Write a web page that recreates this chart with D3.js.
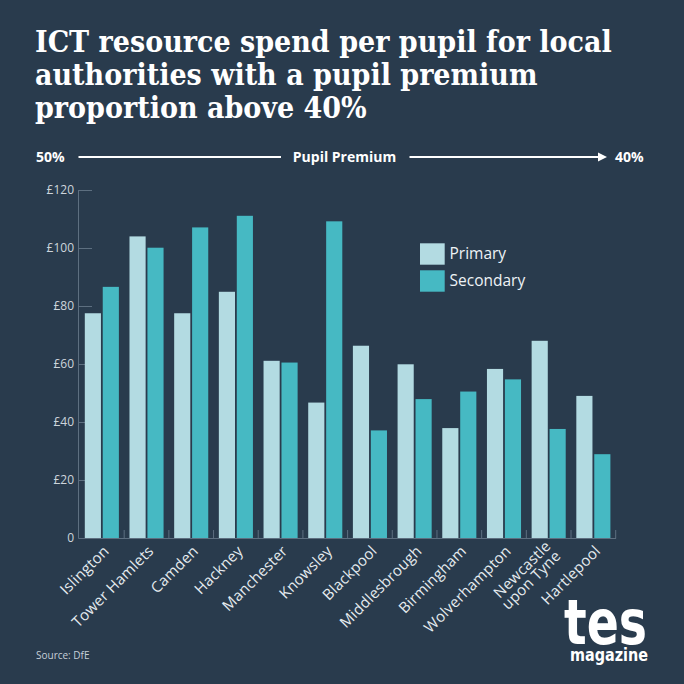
<!DOCTYPE html>
<html>
<head>
<meta charset="utf-8">
<script src="https://cdn.jsdelivr.net/npm/d3@7"></script>
<style>
  html, body { margin: 0; padding: 0; background: #293b4d; }
  svg { display: block; }
</style>
</head>
<body>
<script>
const categories = ["Islington", "Tower Hamlets", "Camden", "Hackney", "Manchester", "Knowsley",
  "Blackpool", "Middlesbrough", "Birmingham", "Wolverhampton", "Newcastle upon Tyne", "Hartlepool"];
const labelLines = [["Islington"], ["Tower Hamlets"], ["Camden"], ["Hackney"], ["Manchester"], ["Knowsley"],
  ["Blackpool"], ["Middlesbrough"], ["Birmingham"], ["Wolverhampton"], ["Newcastle", "upon Tyne"], ["Hartlepool"]];
const seriesNames = ["Primary", "Secondary"];
const primary   = [77.5, 104.0, 77.5, 84.9, 61.1, 46.7, 66.3, 59.9, 37.9, 58.3, 68.0, 49.0];
const secondary = [86.6, 100.1, 107.1, 111.1, 60.5, 109.2, 37.1, 47.9, 50.5, 54.7, 37.6, 28.9];
const yTicks = [0, 20, 40, 60, 80, 100, 120];
const titleLines = ["ICT resource spend per pupil for local", "authorities with a pupil premium", "proportion above 40%"];

const W = 684, H = 684;
const bg = "#293b4d";
const colors = { Primary: "#b3dbe2", Secondary: "#46b9c3" };
const axisColor = "#5d6f80";
const sans = "'Open Sans', 'Noto Sans', sans-serif";

const svg = d3.select("body").append("svg").attr("width", W).attr("height", H);
svg.append("rect").attr("width", W).attr("height", H).attr("fill", bg);

// Title
const title = svg.append("text")
  .attr("fill", "#ffffff")
  .style("font-family", "'DejaVu Serif Condensed', 'DejaVu Serif', serif")
  .style("font-stretch", "condensed")
  .style("font-weight", "bold")
  .style("font-size", "30px");
titleLines.forEach((t, i) => {
  title.append("tspan").attr("x", 35).attr("y", 51.5 + i * 33).text(t);
});

// Pupil premium arrow row
const arrowY = 157;
const rowFont = "14px";
svg.append("text").attr("x", 36).attr("y", 162).attr("fill", "#fff")
  .style("font-family", sans).style("font-weight", "bold").style("font-size", rowFont).text("50%");
svg.append("text").attr("x", 344.5).attr("y", 162).attr("fill", "#fff").attr("text-anchor", "middle")
  .style("font-family", sans).style("font-weight", "bold").style("font-size", rowFont).text("Pupil Premium");
svg.append("text").attr("x", 615).attr("y", 162).attr("fill", "#fff")
  .style("font-family", sans).style("font-weight", "bold").style("font-size", rowFont).text("40%");
svg.append("line").attr("x1", 78.5).attr("x2", 281).attr("y1", arrowY).attr("y2", arrowY)
  .attr("stroke", "#fff").attr("stroke-width", 2);
svg.append("line").attr("x1", 409.5).attr("x2", 600).attr("y1", arrowY).attr("y2", arrowY)
  .attr("stroke", "#fff").attr("stroke-width", 2);
svg.append("path").attr("d", `M598,${arrowY - 4.5}L607,${arrowY}L598,${arrowY + 4.5}Z`).attr("fill", "#fff");

// Scales
const x0 = d3.scaleBand().domain(categories).range([79.5, 615.7]).padding(0);
const x1 = d3.scaleBand().domain(seriesNames).range([5.3, x0.bandwidth() - 5.3]).paddingInner(0.1);
const y = d3.scaleLinear().domain([0, 120]).range([538, 190]);

// Y axis
const yAxisG = svg.append("g").attr("transform", "translate(78.5,0)");
yAxisG.call(d3.axisRight(y).tickValues(yTicks).tickSize(13.5).tickFormat(""));
yAxisG.select(".domain").attr("stroke", axisColor).attr("d", `M0,${y(120)}V${y(0)}`);
yAxisG.selectAll(".tick line").attr("stroke", axisColor);
yTicks.forEach(v => {
  svg.append("text").attr("x", 74).attr("y", y(v)).attr("dy", "0.36em").attr("text-anchor", "end")
    .attr("fill", "#cdd5dc").style("font-family", sans).style("font-size", "12px")
    .text(v === 0 ? "0" : "£" + v);
});

// Bars
const data = categories.map((c, i) => ({ cat: c, values: [
  { key: "Primary", value: primary[i] }, { key: "Secondary", value: secondary[i] }] }));
const groups = svg.append("g").selectAll("g").data(data).join("g")
  .attr("transform", d => `translate(${x0(d.cat)},0)`);
groups.selectAll("rect").data(d => d.values).join("rect")
  .attr("x", d => x1(d.key))
  .attr("width", x1.bandwidth())
  .attr("y", d => y(d.value))
  .attr("height", d => y(0) - y(d.value))
  .attr("fill", d => colors[d.key]);

// X axis line and boundary ticks
svg.append("line").attr("x1", 78.5).attr("x2", 616).attr("y1", 538.5).attr("y2", 538.5)
  .attr("stroke", axisColor);
const bounds = categories.slice(1).map(c => x0(c)).concat([x0.range()[1]]);
svg.append("g").selectAll("line").data(bounds).join("line")
  .attr("x1", d => d).attr("x2", d => d).attr("y1", 538.5).attr("y2", 530)
  .attr("stroke", axisColor);

// X labels
const lab = svg.append("g").selectAll("text").data(categories).join("text")
  .attr("text-anchor", "end")
  .attr("fill", "#e6ecf0")
  .style("font-family", sans).style("font-size", "15px").style("letter-spacing", "0.2px")
  .attr("transform", d => `translate(${x0(d) + x0.bandwidth() / 2 + 8},${552}) rotate(-45)`);
lab.each(function (d, i) {
  const lines = labelLines[i];
  const t = d3.select(this);
  lines.forEach((ln, j) => {
    const off = (j - (lines.length - 1) / 2) * 14;
    t.append("tspan").attr("x", 0).attr("y", off).text(ln);
  });
});

// Legend
const lg = svg.append("g");
seriesNames.forEach((s, i) => {
  lg.append("rect").attr("x", 420).attr("y", 243.3 + i * 27).attr("width", 24.7).attr("height", 21.4)
    .attr("fill", colors[s]);
  lg.append("text").attr("x", 449.5).attr("y", 259 + i * 27).attr("fill", "#eef3f6")
    .style("font-family", sans).style("font-size", "15.5px").text(s);
});

// Source
svg.append("text").attr("x", 36).attr("y", 658.5).attr("fill", "#c6cfd8")
  .style("font-family", sans).style("font-size", "10px").text("Source: DfE");

// Logo
svg.append("text").attr("x", 564).attr("y", 644).attr("fill", "#fff")
  .attr("textLength", 83).attr("lengthAdjust", "spacingAndGlyphs")
  .style("font-family", "'DejaVu Sans', sans-serif").style("font-weight", "bold").style("font-size", "62px")
  .text("tes");
svg.append("text").attr("x", 570).attr("y", 661).attr("fill", "#fff")
  .attr("textLength", 78).attr("lengthAdjust", "spacingAndGlyphs")
  .style("font-family", "'DejaVu Sans', sans-serif").style("font-weight", "bold").style("font-size", "18.5px")
  .text("magazine");
</script>
</body>
</html>
